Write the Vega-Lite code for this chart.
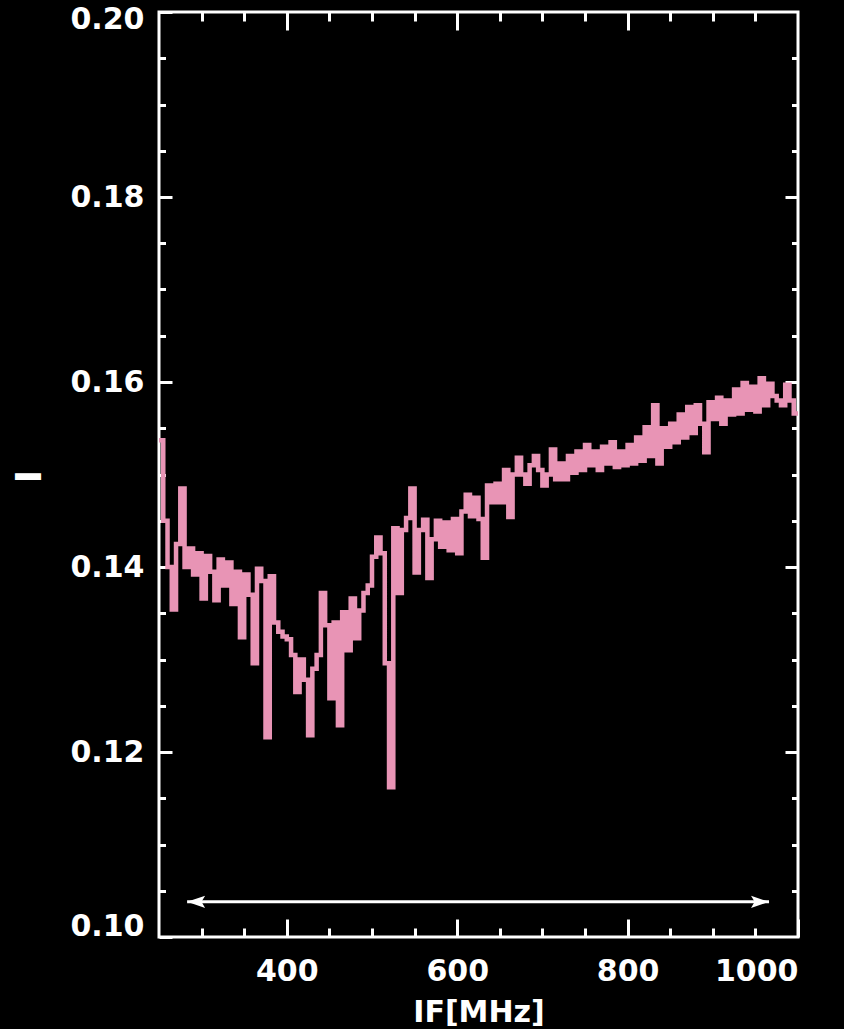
{
  "$schema": "https://vega.github.io/schema/vega-lite/v6.json",
  "width": 639,
  "height": 925,
  "autosize": {"type": "none"},
  "padding": {"left": 159, "top": 12, "right": 46, "bottom": 92},
  "background": "black",
  "config": {
    "view": {"stroke": "white", "strokeWidth": 3},
    "axis": {
      "domain": false,
      "grid": false,
      "tickColor": "white",
      "tickWidth": 3,
      "labelColor": "white",
      "labelFont": "DejaVu Sans",
      "labelFontWeight": "bold",
      "labelFontSize": 30,
      "titleColor": "white",
      "titleFont": "DejaVu Sans",
      "titleFontWeight": "bold"
    }
  },
  "datasets": {
    "spectrum": [
      {"f": 250, "i": 0.1537}, {"f": 255, "i": 0.1450}, {"f": 260, "i": 0.1400}, {"f": 265, "i": 0.1354},
      {"f": 270, "i": 0.1425}, {"f": 275, "i": 0.1485}, {"f": 280, "i": 0.1400}, {"f": 285, "i": 0.1420},
      {"f": 290, "i": 0.1392}, {"f": 295, "i": 0.1415}, {"f": 300, "i": 0.1366}, {"f": 305, "i": 0.1412},
      {"f": 310, "i": 0.1395}, {"f": 315, "i": 0.1364}, {"f": 320, "i": 0.1408}, {"f": 325, "i": 0.1380},
      {"f": 330, "i": 0.1405}, {"f": 335, "i": 0.1360}, {"f": 340, "i": 0.1395}, {"f": 345, "i": 0.1324},
      {"f": 350, "i": 0.1392}, {"f": 355, "i": 0.1370}, {"f": 360, "i": 0.1296}, {"f": 365, "i": 0.1398},
      {"f": 370, "i": 0.1385}, {"f": 375, "i": 0.1216}, {"f": 380, "i": 0.1390}, {"f": 385, "i": 0.1340},
      {"f": 390, "i": 0.1330}, {"f": 395, "i": 0.1325}, {"f": 400, "i": 0.1322}, {"f": 405, "i": 0.1305},
      {"f": 410, "i": 0.1265}, {"f": 415, "i": 0.1300}, {"f": 420, "i": 0.1278}, {"f": 425, "i": 0.1218},
      {"f": 430, "i": 0.1290}, {"f": 435, "i": 0.1305}, {"f": 440, "i": 0.1372}, {"f": 445, "i": 0.1337},
      {"f": 450, "i": 0.1258}, {"f": 455, "i": 0.1340}, {"f": 460, "i": 0.1229}, {"f": 465, "i": 0.1351},
      {"f": 470, "i": 0.1310}, {"f": 475, "i": 0.1366}, {"f": 480, "i": 0.1323}, {"f": 485, "i": 0.1353},
      {"f": 490, "i": 0.1372}, {"f": 495, "i": 0.1380}, {"f": 500, "i": 0.1411}, {"f": 505, "i": 0.1432},
      {"f": 510, "i": 0.1415}, {"f": 515, "i": 0.1296}, {"f": 520, "i": 0.1162}, {"f": 525, "i": 0.1442},
      {"f": 530, "i": 0.1372}, {"f": 535, "i": 0.1440}, {"f": 540, "i": 0.1453}, {"f": 545, "i": 0.1485},
      {"f": 550, "i": 0.1394}, {"f": 555, "i": 0.1440}, {"f": 560, "i": 0.1451}, {"f": 565, "i": 0.1388},
      {"f": 570, "i": 0.1430}, {"f": 575, "i": 0.1450}, {"f": 580, "i": 0.1422}, {"f": 585, "i": 0.1448},
      {"f": 590, "i": 0.1418}, {"f": 595, "i": 0.1452}, {"f": 600, "i": 0.1415}, {"f": 605, "i": 0.1460},
      {"f": 610, "i": 0.1478}, {"f": 615, "i": 0.1455}, {"f": 620, "i": 0.1475}, {"f": 625, "i": 0.1452},
      {"f": 630, "i": 0.1410}, {"f": 635, "i": 0.1488}, {"f": 640, "i": 0.1470}, {"f": 645, "i": 0.1490},
      {"f": 650, "i": 0.1470}, {"f": 655, "i": 0.1505}, {"f": 660, "i": 0.1454}, {"f": 665, "i": 0.1500},
      {"f": 670, "i": 0.1518}, {"f": 675, "i": 0.1500}, {"f": 680, "i": 0.1490}, {"f": 685, "i": 0.1510},
      {"f": 690, "i": 0.1520}, {"f": 695, "i": 0.1505}, {"f": 700, "i": 0.1488}, {"f": 705, "i": 0.1500},
      {"f": 710, "i": 0.1527}, {"f": 715, "i": 0.1495}, {"f": 720, "i": 0.1512}, {"f": 725, "i": 0.1495},
      {"f": 730, "i": 0.1520}, {"f": 735, "i": 0.1502}, {"f": 740, "i": 0.1525}, {"f": 745, "i": 0.1505},
      {"f": 750, "i": 0.1532}, {"f": 755, "i": 0.1510}, {"f": 760, "i": 0.1525}, {"f": 765, "i": 0.1505},
      {"f": 770, "i": 0.1530}, {"f": 775, "i": 0.1512}, {"f": 780, "i": 0.1535}, {"f": 785, "i": 0.1508},
      {"f": 790, "i": 0.1525}, {"f": 795, "i": 0.1510}, {"f": 800, "i": 0.1532}, {"f": 805, "i": 0.1512},
      {"f": 810, "i": 0.1540}, {"f": 815, "i": 0.1515}, {"f": 820, "i": 0.1551}, {"f": 825, "i": 0.1520},
      {"f": 830, "i": 0.1575}, {"f": 835, "i": 0.1512}, {"f": 840, "i": 0.1550}, {"f": 845, "i": 0.1530},
      {"f": 850, "i": 0.1555}, {"f": 855, "i": 0.1535}, {"f": 860, "i": 0.1565}, {"f": 865, "i": 0.1540},
      {"f": 870, "i": 0.1573}, {"f": 875, "i": 0.1545}, {"f": 880, "i": 0.1575}, {"f": 885, "i": 0.1555},
      {"f": 890, "i": 0.1524}, {"f": 895, "i": 0.1578}, {"f": 900, "i": 0.1560}, {"f": 905, "i": 0.1583},
      {"f": 910, "i": 0.1555}, {"f": 915, "i": 0.1580}, {"f": 920, "i": 0.1565}, {"f": 925, "i": 0.1592},
      {"f": 930, "i": 0.1566}, {"f": 935, "i": 0.1599}, {"f": 940, "i": 0.1570}, {"f": 945, "i": 0.1595},
      {"f": 950, "i": 0.1568}, {"f": 955, "i": 0.1604}, {"f": 960, "i": 0.1575}, {"f": 965, "i": 0.1598},
      {"f": 970, "i": 0.1585}, {"f": 975, "i": 0.1580}, {"f": 980, "i": 0.1575}, {"f": 985, "i": 0.1597},
      {"f": 990, "i": 0.1580}, {"f": 995, "i": 0.1566}, {"f": 1000, "i": 0.1566}
    ],
    "band": [{"f1": 283, "f2": 966, "i": 0.1038}]
  },
  "resolve": {"axis": {"x": "independent", "y": "independent"}},
  "layer": [
    {
      "data": {"name": "spectrum"},
      "mark": {"type": "line", "interpolate": "step-after", "color": "#e894b5", "strokeWidth": 4.5, "strokeJoin": "miter", "clip": true},
      "encoding": {
        "x": {
          "field": "f", "type": "quantitative",
          "scale": {"domain": [250, 1000], "nice": false, "zero": false},
          "axis": {
            "orient": "bottom", "values": [400, 600, 800, 1000], "format": "d", "tickSize": -18,
            "labelPadding": 37, "title": "IF[MHz]", "titleFontSize": 30,
            "titleBaseline": "alphabetic", "titleY": 84
          }
        },
        "y": {
          "field": "i", "type": "quantitative",
          "scale": {"domain": [0.1, 0.2], "nice": false, "zero": false},
          "axis": {
            "orient": "left", "values": [0.1, 0.12, 0.14, 0.16, 0.18, 0.2], "format": ".2f",
            "tickSize": -13, "labelPadding": 28,
            "labelOffset": {"condition": [{"test": "datum.value > 0.199", "value": 7}, {"test": "datum.value < 0.101", "value": -11}], "value": 0},
            "title": "I", "titleFontSize": 36, "titleAngle": -90,
            "titleBaseline": "alphabetic", "titleX": -119, "titleY": 464
          }
        }
      }
    },
    {
      "data": {"name": "band"},
      "mark": {"type": "rule", "color": "white", "strokeWidth": 3},
      "encoding": {
        "x": {
          "field": "f1", "type": "quantitative",
          "scale": {"domain": [250, 1000], "nice": false, "zero": false},
          "axis": {
            "orient": "bottom", "values": [300, 350, 450, 500, 550, 650, 700, 750, 850, 900, 950],
            "tickSize": -9, "labels": false, "title": null
          }
        },
        "x2": {"field": "f2"},
        "y": {
          "field": "i", "type": "quantitative",
          "scale": {"domain": [0.1, 0.2], "nice": false, "zero": false},
          "axis": {
            "orient": "left",
            "values": [0.105, 0.11, 0.115, 0.125, 0.13, 0.135, 0.145, 0.15, 0.155, 0.165, 0.17, 0.175, 0.185, 0.19, 0.195],
            "tickSize": -6.5, "labels": false, "title": null
          }
        }
      }
    },
    {
      "data": {"name": "band"},
      "mark": {"type": "point", "shape": "M0,0L2,-0.67L1.6,0L2,0.67Z", "filled": true, "color": "white", "opacity": 1, "size": 324, "strokeWidth": 0},
      "encoding": {
        "x": {
          "field": "f1", "type": "quantitative",
          "scale": {"domain": [250, 1000], "nice": false, "zero": false},
          "axis": {"orient": "top", "values": [400, 600, 800], "tickSize": -18, "labels": false, "title": null}
        },
        "y": {
          "field": "i", "type": "quantitative",
          "scale": {"domain": [0.1, 0.2], "nice": false, "zero": false},
          "axis": {"orient": "right", "values": [0.12, 0.14, 0.16, 0.18], "tickSize": -13, "labels": false, "title": null}
        }
      }
    },
    {
      "data": {"name": "band"},
      "mark": {"type": "point", "shape": "M0,0L-2,-0.67L-1.6,0L-2,0.67Z", "filled": true, "color": "white", "opacity": 1, "size": 324, "strokeWidth": 0},
      "encoding": {
        "x": {
          "field": "f2", "type": "quantitative",
          "scale": {"domain": [250, 1000], "nice": false, "zero": false},
          "axis": {
            "orient": "top", "values": [300, 350, 450, 500, 550, 650, 700, 750, 850, 900, 950],
            "tickSize": -9, "labels": false, "title": null
          }
        },
        "y": {
          "field": "i", "type": "quantitative",
          "scale": {"domain": [0.1, 0.2], "nice": false, "zero": false},
          "axis": {
            "orient": "right",
            "values": [0.105, 0.11, 0.115, 0.125, 0.13, 0.135, 0.145, 0.15, 0.155, 0.165, 0.17, 0.175, 0.185, 0.19, 0.195],
            "tickSize": -6.5, "labels": false, "title": null
          }
        }
      }
    }
  ]
}
